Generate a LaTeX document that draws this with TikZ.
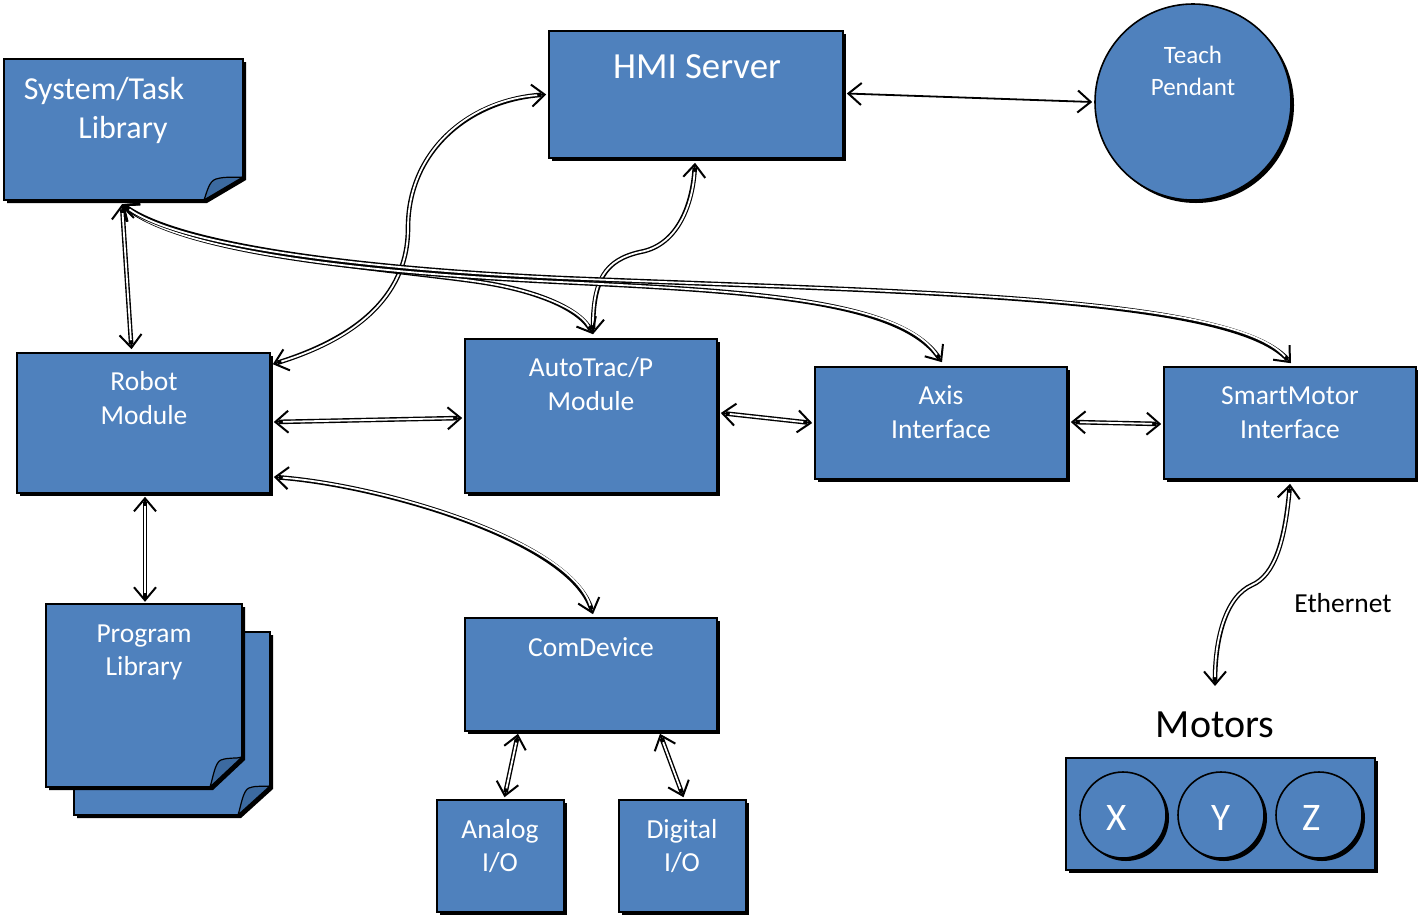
\documentclass[tikz,border=0pt]{standalone}
\usepackage{fontspec}
\setmainfont{Carlito}
\usetikzlibrary{arrows.meta,shadows,calc}
\definecolor{boxblue}{HTML}{4F81BD}
\definecolor{folddark}{HTML}{3C6AA0}
\begin{document}
\begin{tikzpicture}[x=1pt,y=-1pt,
  shad/.style={drop shadow={shadow xshift=3pt,shadow yshift=-3pt,opacity=1,fill=black}},
  box/.style={rectangle,draw=black,line width=1.6pt,fill=boxblue,inner sep=0pt,shad},
  circ/.style={circle,draw=black,line width=1.6pt,fill=boxblue,inner sep=0pt,shad},
  ghost/.style={rectangle,inner sep=0pt,draw=none},
  wt/.style={text=white,anchor=base,inner sep=0pt,font=\fontsize{27.5}{33}\selectfont},
  bt/.style={text=black,anchor=base,inner sep=0pt},
  tip/.tip={Straight Barb[length=13pt,width=22pt,line width=2pt]},
  conn/.style={draw=black,line width=1.6pt,tip-tip,
     preaction={draw=black,line width=4.6pt,shorten >=5pt,shorten <=5pt,arrows=-},
     postaction={draw=white,line width=1.8pt,shorten >=9pt,shorten <=9pt,arrows=-}},
  single/.style={draw=black,line width=1.8pt,tip-tip},
  notefill/.style={fill=boxblue,draw=black,line width=1.6pt,line join=miter},
  foldfill/.style={fill=folddark,draw=black,line width=1.2pt}
]
\useasboundingbox (0,0) rectangle (1418,914);

% ---------- System/Task Library (note)
\node[ghost,minimum width=239,minimum height=141] (sys) at (123.5,129.5) {};
\fill[black,shift={(3,3)}] (4,59) -- (243,59) -- (243,177) -- (204,200) -- (4,200) -- cycle;
\path[notefill] (4,59) -- (243,59) -- (243,177) -- (204,200) -- (4,200) -- cycle;
\path[foldfill] (204,200) .. controls (207,192) and (209,181) .. (216,179) .. controls (226,176) and (235,178) .. (243,177) -- cycle;
\node[wt,font=\fontsize{32}{39}\selectfont] (systxt1) at (104,99) {System/Task};
\node[wt,font=\fontsize{32}{39}\selectfont] (systxt2) at (123,138) {Library};

% ---------- Program Library (two notes)
\node[ghost,minimum width=196,minimum height=183] (prog) at (144,695.5) {};
\fill[black,shift={(3,3)}] (74,632) -- (270,632) -- (270,786) -- (238,815) -- (74,815) -- cycle;
\path[notefill] (74,632) -- (270,632) -- (270,786) -- (238,815) -- (74,815) -- cycle;
\path[foldfill] (238,815) .. controls (241,806) and (243,790) .. (249,788) .. controls (257,785) and (264,787) .. (270,786) -- cycle;
\fill[black,shift={(3,3)}] (46,604) -- (242,604) -- (242,757) -- (210,787) -- (46,787) -- cycle;
\path[notefill] (46,604) -- (242,604) -- (242,757) -- (210,787) -- (46,787) -- cycle;
\path[foldfill] (210,787) .. controls (213,778) and (215,762) .. (221,760) .. controls (229,757) and (236,759) .. (242,757) -- cycle;
\node[wt] (progtxt1) at (144,642) {Program};
\node[wt] (progtxt2) at (144,675) {Library};

% ---------- boxes
\node[box,minimum width=294,minimum height=127] (hmi) at (696,94.5) {};
\node[wt,font=\fontsize{36.8}{44}\selectfont] (hmitxt) at (697,78) {HMI Server};

\node[circ,minimum size=196] (teach) at (1193,102) {};
\node[wt,font=\fontsize{25}{31}\selectfont] (teachtxt1) at (1193,63) {Teach};
\node[wt,font=\fontsize{25}{31}\selectfont] (teachtxt2) at (1193,95) {Pendant};

\node[box,minimum width=253,minimum height=140] (robot) at (143.5,423) {};
\node[wt] (robottxt1) at (144,390) {Robot};
\node[wt] (robottxt2) at (144,424) {Module};

\node[box,minimum width=252,minimum height=154] (auto) at (591,416) {};
\node[wt] (autotxt1) at (591,376) {AutoTrac/P};
\node[wt] (autotxt2) at (591,410) {Module};

\node[box,minimum width=252,minimum height=112] (axis) at (941,423) {};
\node[wt] (axistxt1) at (941,404) {Axis};
\node[wt] (axistxt2) at (941,438) {Interface};

\node[box,minimum width=252,minimum height=112] (smart) at (1290,423) {};
\node[wt] (smarttxt1) at (1290,404) {SmartMotor};
\node[wt] (smarttxt2) at (1290,438) {Interface};

\node[box,minimum width=252,minimum height=113] (com) at (591,674.5) {};
\node[wt] (comtxt) at (591,656) {ComDevice};

\node[box,minimum width=127,minimum height=112] (analog) at (500.5,856) {};
\node[wt] (analogtxt1) at (500,838) {Analog};
\node[wt] (analogtxt2) at (500,871) {I/O};

\node[box,minimum width=127,minimum height=112] (digital) at (682.5,856) {};
\node[wt] (digitaltxt1) at (682,838) {Digital};
\node[wt] (digitaltxt2) at (682,871) {I/O};

% ---------- Motors
\node[bt,font=\fontsize{40}{48}\selectfont] (motlabel) at (1215,737) {Motors};
\node[box,minimum width=309,minimum height=112] (motbox) at (1220.5,814) {};
\node[circ,minimum size=86] (cx) at (1123,815) {};
\node[circ,minimum size=86] (cy) at (1221,815) {};
\node[circ,minimum size=86] (cz) at (1319,815) {};
\node[wt,font=\fontsize{39}{46}\selectfont] (cxt) at (1117,830) {X};
\node[wt,font=\fontsize{39}{46}\selectfont] (cyt) at (1221,830) {Y};
\node[wt,font=\fontsize{39}{46}\selectfont] (czt) at (1312,830) {Z};
\coordinate (motend) at (1215,686);

\node[bt,font=\fontsize{27.5}{33}\selectfont] (eth) at (1343,612) {Ethernet};

% ---------- connectors
\coordinate (sysb) at ($(sys.south)+(-1.5,4)$);
\draw[single] ($(hmi.east)+(3,-1)$) -- ($(teach.west)+(-2,0)$);
\draw[conn] ($(robot.north east)+(2,12)$) .. controls (350,340) and (408,300) .. (408,228)
   .. controls (408,150) and (470,100) .. ($(hmi.west)+(-2,0)$);
\draw[conn] ($(hmi.south)+(-1,4)$) .. controls (693,200) and (680,245) .. (640,252)
   .. controls (605,260) and (593,280) .. ($(auto.north)+(2,-4)$);
\draw[conn] (sysb) .. controls (190,255) and (400,270) .. (480,282)
   .. controls (540,291) and (580,310) .. ($(auto.north)+(2,-4)$);
\draw[conn] (sysb) .. controls (180,250) and (350,272) .. (560,282)
   .. controls (750,291) and (900,300) .. ($(axis.north)+(1,-4)$);
\draw[conn] (sysb) .. controls (180,245) and (350,268) .. (560,278)
   .. controls (900,292) and (1230,295) .. ($(smart.north)+(1,-3)$);
\draw[conn] (sysb) -- ($(robot.north)+(-12,-3)$);
\draw[conn] ($(robot.east)+(3,-1)$) -- ($(auto.west)+(-2,2)$);
\draw[conn] ($(auto.east)+(3,-3)$) -- ($(axis.west)+(-2,0)$);
\draw[conn] ($(axis.east)+(3,-1)$) -- ($(smart.west)+(-2,1)$);
\draw[conn] ($(robot.east)+(3,54)$) .. controls (380,485) and (570,540) .. ($(com.north)+(2,-3)$);
\draw[conn] ($(robot.south)+(1.5,3)$) -- ($(prog.north)+(1,-2)$);
\draw[conn] ($(com.south)+(-73,2)$) -- ($(analog.north)+(4,-2)$);
\draw[conn] ($(com.south)+(69,2)$) -- ($(digital.north)+(1,-2)$);
\draw[conn] ($(smart.south)+(0,4)$) .. controls (1285,540) and (1275,575) .. (1252,585)
   .. controls (1225,597) and (1215,640) .. (motend);
\end{tikzpicture}
\end{document}
